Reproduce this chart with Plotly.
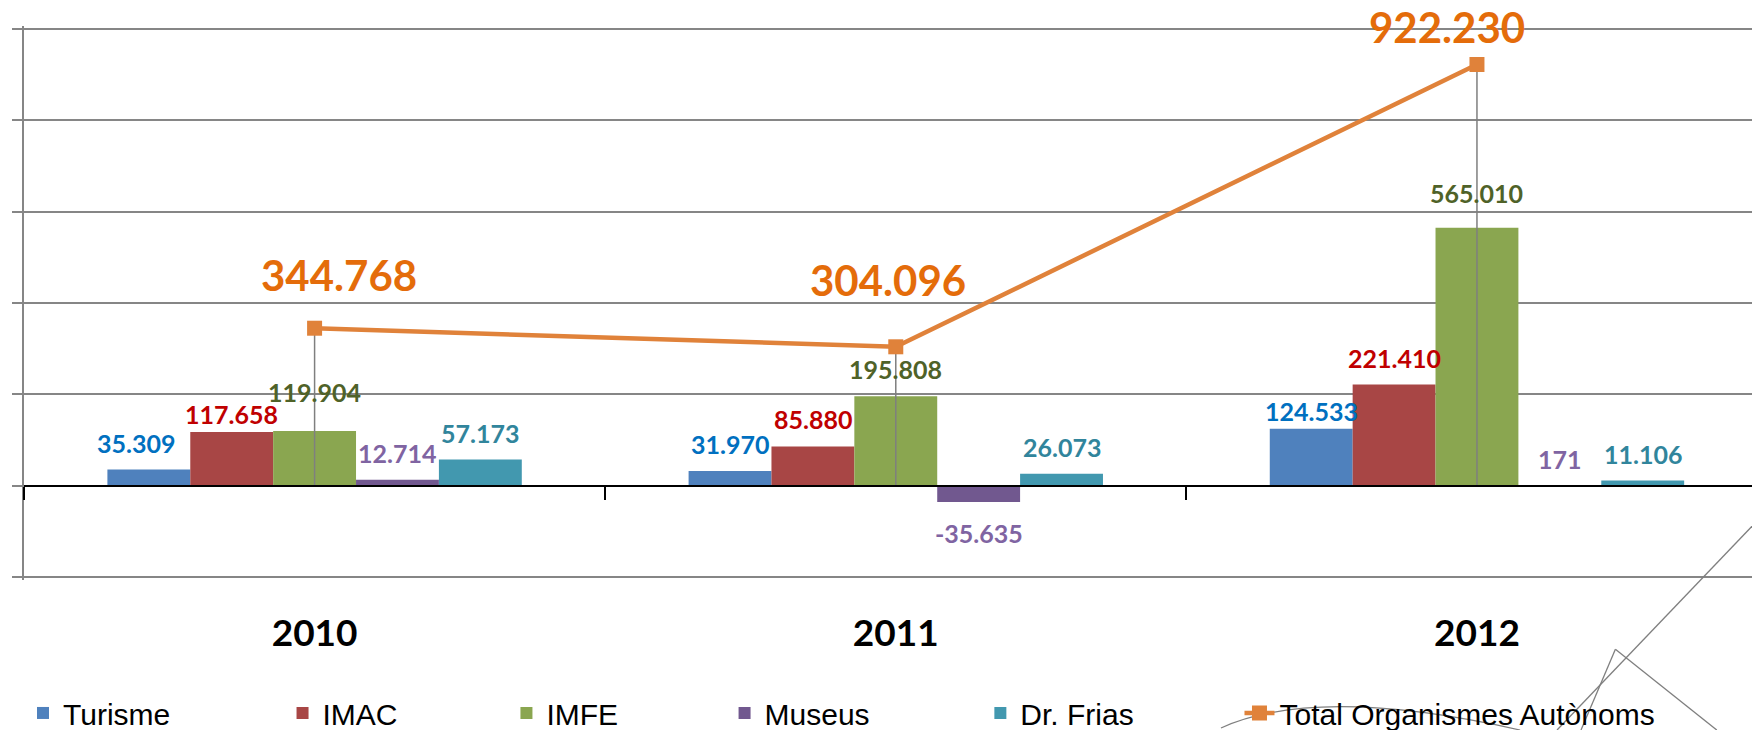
import plotly.graph_objects as go

# ---------------- data ----------------
years = ["2010", "2011", "2012"]
turisme = [35309, 31970, 124533]
imac = [117658, 85880, 221410]
imfe = [119904, 195808, 565010]
museus = [12714, -35635, 171]
dr_frias = [57173, 26073, 11106]
total = [344768, 304096, 922230]

series_names = ["Turisme", "IMAC", "IMFE", "Museus", "Dr. Frias"]
series_values = [turisme, imac, imfe, museus, dr_frias]
total_name = "Total Organismes Autònoms"

# ---------------- style ----------------
bar_colors = ["#4F81BD", "#A84645", "#8AA650", "#71588F", "#4298AF"]
label_colors = ["#0070C0", "#C00000", "#4F6228", "#8064A2", "#31859C"]
line_color = "#E0823A"
total_label_color = "#E46C0A"
grid_color = "#868686"
BARGAP = 0.287
LABEL_FONT = "Lato"
LEGEND_FONT = "Liberation Sans"

# the page body adds an 8px offset, so the figure is sized to fill the rest
FIG_W, FIG_H = 1752, 722

DEFAULT_LIFT = 10
nudges = {(0, 0): (-13, 0), (1, 0): (0, -9), (2, 0): (0, 12),
          (0, 2): (0, -9), (2, 2): (0, 8)}
NEG_DROP = -14
total_nudges = [(24, 26), (-8, 40), (-30, 11)]

# legend boxes, in container fractions
legend_x = [0.00856, 0.1567, 0.2845, 0.4090, 0.5550, 0.7029]
LEGEND_Y = 0.0236


def fmt(v):
    return f"{v:,}".replace(",", ".")


xs = list(range(len(years)))
fig = go.Figure()

legend_ids = ["legend"] + [f"legend{i}" for i in range(2, 7)]

for i, (name, vals) in enumerate(zip(series_names, series_values)):
    fig.add_trace(go.Bar(
        x=xs, y=vals, name=name,
        marker=dict(color=bar_colors[i], line=dict(width=0)),
        legend=legend_ids[i], hoverinfo="skip",
    ))

fig.add_trace(go.Scatter(
    x=xs, y=total, name=total_name, mode="lines+markers",
    line=dict(color=line_color, width=4.5),
    marker=dict(symbol="square", size=15, color=line_color),
    error_y=dict(type="data", symmetric=False, array=[0] * len(total),
                 arrayminus=total, color="#7F7F7F", thickness=1.5, width=0),
    legend=legend_ids[5], hoverinfo="skip",
))

# dummy trace carrying the boundary-tick axis at the zero line
fig.add_trace(go.Scatter(x=[None], y=[None], xaxis="x2", showlegend=False,
                         hoverinfo="skip"))

bar_w = (1 - BARGAP) / len(series_names)
annotations = []
for i, vals in enumerate(series_values):
    for j, v in enumerate(vals):
        dx, dy = nudges.get((i, j), (0, 0))
        if v >= 0:
            yanchor, yshift = "bottom", DEFAULT_LIFT + dy
        else:
            yanchor, yshift = "top", NEG_DROP + dy
        annotations.append(dict(
            x=xs[j] + (i - 2) * bar_w, y=v, xref="x", yref="y",
            text=fmt(v), showarrow=False, xanchor="center", yanchor=yanchor,
            xshift=dx, yshift=yshift,
            font=dict(family=LABEL_FONT, size=25, color=label_colors[i], weight="bold"),
        ))
for j, v in enumerate(total):
    dx, dy = total_nudges[j]
    annotations.append(dict(
        x=xs[j], y=v, xref="x", yref="y", text=fmt(v), showarrow=False,
        xanchor="center", yanchor="bottom", xshift=dx, yshift=dy,
        font=dict(family=LABEL_FONT, size=42, color=total_label_color, weight="bold"),
    ))

# stray grey strokes visible in the lower-right corner of the original
stroke = dict(color="#7F7F7F", width=1.3)
shapes = [
    dict(type="line", xref="paper", yref="paper", x0=1.0115, y0=0.1498, x1=0.8831, y1=-0.2708, line=stroke),
    dict(type="line", xref="paper", yref="paper", x0=0.9167, y0=-0.1251, x1=0.8969, y1=-0.2708, line=stroke),
    dict(type="line", xref="paper", yref="paper", x0=0.9167, y0=-0.1251, x1=0.9751, y1=-0.2708, line=stroke),
    dict(type="path", xref="paper", yref="paper",
         path="M 0.6895,-0.2671 Q 0.7451,-0.1884 0.8618,-0.2708", line=stroke),
]

layout_legends = {}
for k, lid in enumerate(legend_ids):
    layout_legends[lid] = dict(
        x=legend_x[k], y=LEGEND_Y, xref="container", yref="container",
        xanchor="left", yanchor="middle",
        orientation="h", bgcolor="rgba(0,0,0,0)", borderwidth=0,
        font=dict(family=LEGEND_FONT, size=30, color="black"),
    )

fig.update_layout(
    width=FIG_W, height=FIG_H, autosize=False,
    margin=dict(l=16, r=0, t=18, b=150, pad=0),
    paper_bgcolor="white", plot_bgcolor="white",
    barmode="group", bargap=BARGAP, bargroupgap=0,
    showlegend=True,
    xaxis=dict(
        type="linear", range=[-0.5, 2.487], tickvals=xs, ticktext=years,
        showgrid=False, zeroline=False, showline=False, ticks="",
        tickfont=dict(family=LABEL_FONT, size=37, color="black", weight="bold"),
        ticklabelstandoff=28,
    ),
    xaxis2=dict(
        type="linear", overlaying="x", anchor="free", position=206569 / 1213138,
        range=[-0.5, 2.487], tickvals=[-0.5, 0.5, 1.5, 2.5],
        ticks="outside", ticklen=13, tickwidth=1.5, tickcolor="black",
        showticklabels=False, showgrid=False, zeroline=False,
        showline=True, linecolor="black", linewidth=2, layer="above traces",
    ),
    yaxis=dict(
        range=[-206569, 1006569], dtick=200000, tick0=0,
        showgrid=True, gridcolor=grid_color, gridwidth=1.5,
        zeroline=True, zerolinecolor="black", zerolinewidth=2,
        showline=True, linecolor=grid_color, linewidth=1.5,
        ticks="outside", ticklen=10, tickwidth=1.5, tickcolor=grid_color,
        showticklabels=False,
    ),
    annotations=annotations,
    shapes=shapes,
    **layout_legends,
)

fig.write_html("out.html")
